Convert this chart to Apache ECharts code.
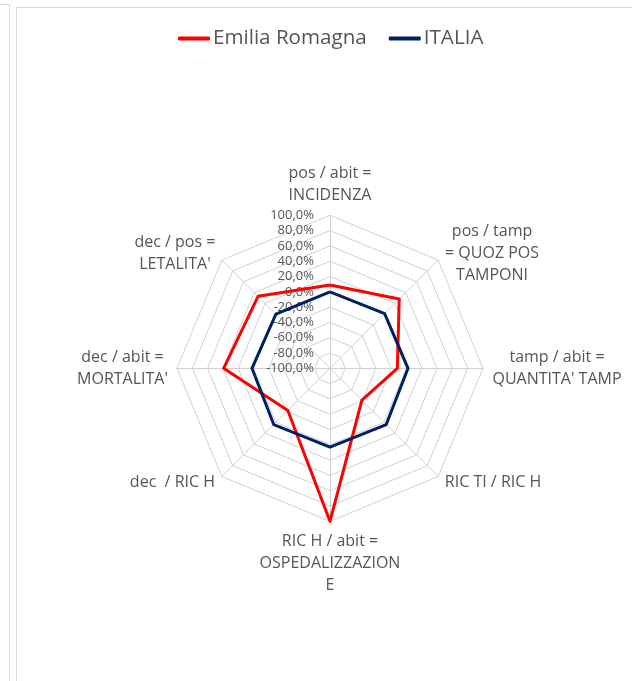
<!DOCTYPE html>
<html>
<head>
<meta charset="utf-8">
<script src="https://cdn.jsdelivr.net/npm/echarts@6/dist/echarts.min.js"></script>
<style>
  html, body { margin: 0; padding: 0; background: #fff; }
  .side  { position: absolute; left: -20px; top: 4px; width: 28px; height: 800px; border: 1px solid #d9d9d9; }
  .frame { position: absolute; left: 16px; top: 7px; width: 700px; height: 800px; border: 1px solid #d9d9d9; }
  #chart { position: absolute; left: 0; top: 0; width: 632px; height: 681px; }
</style>
</head>
<body>
<div class="side"></div>
<div class="frame"></div>
<div id="chart"></div>
<script>
// === Dati (ordine Excel, in senso orario dall'alto) ==========================
const categories = [
  'pos / abit =\nINCIDENZA',
  'pos / tamp\n= QUOZ POS\nTAMPONI',
  "tamp / abit =\nQUANTITA' TAMP",
  'RIC TI / RIC H',
  'RIC H / abit =\nOSPEDALIZZAZION\nE',
  'dec  / RIC H',
  "dec / abit =\nMORTALITA'",
  "dec / pos =\nLETALITA'"
];
const emilia = [9, 28, -12, -41, 100, -22, 39, 33];
const italia = [0, 1, 2, 4, 3, 4, 2, 0];
const axisMin = -100, axisMax = 100, axisStep = 20;

// === Stile ===================================================================
const red = '#ff0000', navy = '#002060', grid = '#d0d0d0', txt = '#555555';
const FONT = '"Open Sans", sans-serif';

// ECharts disegna gli assi in senso antiorario: riordino per imitare Excel
const order = categories.map((_, i) => (categories.length - i) % categories.length);
const pick = arr => order.map(i => arr[i]);

// larghezza del blocco di testo, per centrare le righe come Excel
const ctx = document.createElement('canvas').getContext('2d');
ctx.font = '16px ' + FONT;
const rich = {};
categories.forEach((c, i) => {
  const w = Math.max(...c.split('\n').map(l => ctx.measureText(l).width));
  rich['c' + i] = { width: Math.ceil(w), align: 'center', fontSize: 16, lineHeight: 22, color: txt, fontFamily: FONT };
});

const fmtPct = v => v.toFixed(1).replace('.', ',') + '%';

const indicators = order.map((ci, k) => {
  const ind = { name: String(ci), min: axisMin, max: axisMax };
  if (k === 0) ind.axisLabel = { show: true };
  return ind;
});

const chart = echarts.init(document.getElementById('chart'));
chart.setOption({
  animation: false,
  legend: {
    left: 173, top: 23,
    icon: 'roundRect',
    itemWidth: 32, itemHeight: 4, itemGap: 22,
    textStyle: { fontSize: 20.6, color: txt, fontFamily: FONT, padding: [0, 0, 0, -2] },
    data: ['Emilia Romagna', 'ITALIA']
  },
  radar: {
    center: [330, 368.3],
    radius: 153,
    shape: 'polygon',
    splitNumber: (axisMax - axisMin) / axisStep,
    nameGap: 9,
    axisName: {
      formatter: (n) => {
        const i = +n;
        return categories[i].split('\n').map(l => `{c${i}|${l}}`).join('\n');
      },
      rich
    },
    axisLine: { lineStyle: { color: grid, width: 1 } },
    splitLine: { lineStyle: { color: grid, width: 1 } },
    splitArea: { show: false },
    axisTick: { show: false },
    axisLabel: { show: false, color: txt, fontSize: 13, fontFamily: FONT, margin: 16, formatter: fmtPct },
    indicator: indicators
  },
  series: [{
    type: 'radar',
    symbol: 'none',
    data: [
      { name: 'Emilia Romagna', value: pick(emilia), lineStyle: { color: red, width: 3 }, itemStyle: { color: red } },
      { name: 'ITALIA', value: pick(italia), lineStyle: { color: navy, width: 3 }, itemStyle: { color: navy } }
    ]
  }]
});
</script>
</body>
</html>
